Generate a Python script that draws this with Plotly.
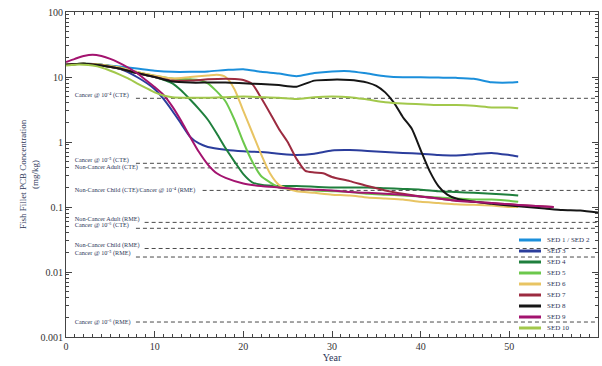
import plotly.graph_objects as go

# ---------------- data ----------------
names = ["SED 1 / SED 2", "SED 3", "SED 4", "SED 5", "SED 6",
         "SED 7", "SED 8", "SED 9", "SED 10"]
colors = ["#1b8fdb", "#2b3d9c", "#1f7f3d", "#6cc84c", "#e8c463",
          "#9c2b40", "#161616", "#a3136f", "#a2c84b"]

sed12_x = [0, 2, 4, 6, 8, 10, 12, 14, 16, 18, 20, 22, 24, 26, 28, 30, 32, 34, 36, 38, 40, 42, 44, 46, 48, 50, 51]
sed12_y = [15.5, 16, 15.5, 14.5, 13.5, 12.5, 12, 12, 12.2, 12.8, 13.2, 12, 11.3, 10.3, 11.5, 12.2, 12.3, 11.3,
           10.3, 9.9, 9.9, 9.8, 9.7, 9.4, 8.3, 8.2, 8.4]

sed3_x = [0, 2, 4, 6, 8, 10, 11, 12, 13, 14, 15, 16, 18, 20, 22, 24, 26, 28, 30, 32, 34, 36, 38, 40, 42, 44, 46, 48, 50, 51]
sed3_y = [15.5, 16, 15.5, 13.5, 10, 6.5, 4.6, 3.0, 1.9, 1.2, 0.95, 0.84, 0.76, 0.72, 0.7, 0.66, 0.63, 0.66,
          0.74, 0.75, 0.73, 0.7, 0.68, 0.66, 0.63, 0.62, 0.65, 0.68, 0.63, 0.6]

sed4_x = [0, 2, 4, 6, 8, 10, 12, 13, 14, 15, 16, 17, 18, 19, 20, 21, 22, 24, 26, 28, 30, 32, 34, 36, 38, 40, 42, 44, 46, 48, 50, 51]
sed4_y = [15.5, 16, 15, 13.5, 11.5, 10, 8, 6.2, 4.5, 3.2, 2.2, 1.35, 0.8, 0.5, 0.32, 0.24, 0.22, 0.21, 0.21,
          0.205, 0.2, 0.2, 0.2, 0.195, 0.19, 0.185, 0.175, 0.17, 0.165, 0.16, 0.155, 0.15]

sed5_x = [0, 2, 4, 6, 8, 10, 12, 14, 15, 16, 17, 18, 19, 20, 21, 22, 23, 24, 26, 28, 30, 32, 34, 36, 38, 40, 42, 44, 46, 48, 50, 51]
sed5_y = [15.5, 16, 15.5, 14, 12, 10.5, 9.5, 9.2, 9, 8, 6, 4.2, 2.2, 1.0, 0.5, 0.3, 0.24, 0.2, 0.19, 0.18,
          0.175, 0.17, 0.16, 0.155, 0.15, 0.145, 0.14, 0.135, 0.13, 0.13, 0.125, 0.12]

sed6_x = [0, 2, 4, 6, 8, 10, 12, 14, 16, 17, 18, 19, 20, 21, 22, 23, 24, 25, 26, 28, 30, 32, 34, 36, 38, 40, 42, 44, 46, 48, 50, 51]
sed6_y = [15.5, 16, 15.5, 14, 12, 10.5, 9.5, 10, 10.5, 10.8, 10, 6.5, 3.0, 1.4, 0.65, 0.33, 0.22, 0.19, 0.175,
          0.165, 0.155, 0.15, 0.14, 0.135, 0.13, 0.12, 0.115, 0.11, 0.108, 0.105, 0.1, 0.1]

sed7_x = [0, 2, 4, 6, 8, 10, 12, 14, 16, 18, 19, 20, 21, 22, 23, 24, 25, 26, 27, 28, 29, 30, 32, 34, 36, 38, 40, 42, 44, 46, 48, 50, 52, 55]
sed7_y = [15.5, 16, 15, 13.5, 11.5, 10, 8.8, 8.8, 9.2, 9.4, 9.3, 9, 7.8, 4.8, 2.8, 1.6, 1.0, 0.55, 0.36, 0.34,
          0.33, 0.29, 0.25, 0.21, 0.18, 0.16, 0.145, 0.135, 0.125, 0.12, 0.115, 0.11, 0.105, 0.1]

sed8_x = [0, 2, 4, 6, 8, 10, 12, 14, 16, 18, 20, 22, 24, 26, 28, 30, 32, 33, 34, 35, 36, 37, 38, 39, 40, 41, 42, 43, 44, 46, 48, 50, 52, 54, 56, 58, 60]
sed8_y = [15.5, 16, 15, 13.5, 11.5, 10, 8.5, 8.2, 8.2, 8.2, 8, 7.8, 7.5, 7.1, 8.8, 9.1, 9.0, 8.7, 8.2, 7.3,
          5.8, 4.0, 2.4, 1.6, 0.75, 0.36, 0.21, 0.155, 0.135, 0.12, 0.112, 0.105, 0.1, 0.095, 0.09, 0.088, 0.082]

sed9_x = [0, 1, 2, 3, 4, 5, 6, 7, 8, 9, 10, 11, 12, 13, 14, 15, 16, 17, 18, 20, 22, 24, 26, 28, 30, 32, 34, 36, 38, 40, 42, 44, 46, 48, 50, 52, 55]
sed9_y = [17, 19, 21, 22, 21, 19, 16.5, 14, 11.5, 9, 7, 5.3, 3.5, 2.1, 1.2, 0.7, 0.45, 0.33, 0.28, 0.23, 0.21,
          0.2, 0.19, 0.185, 0.18, 0.17, 0.165, 0.16, 0.155, 0.145, 0.135, 0.125, 0.12, 0.115, 0.11, 0.105, 0.1]

sed10_x = [0, 1, 2, 3, 4, 5, 6, 7, 8, 9, 10, 11, 12, 14, 16, 18, 20, 22, 24, 26, 28, 30, 32, 34, 36, 38, 40, 42, 44, 46, 48, 50, 51]
sed10_y = [15, 15.5, 15.5, 15, 14, 12.5, 11, 9.5, 8, 6.8, 5.8, 5.2, 4.9, 4.8, 4.8, 4.9, 5.0, 4.9, 4.8, 4.6,
           4.9, 5.0, 4.9, 4.5, 4.1, 3.9, 3.8, 3.7, 3.7, 3.6, 3.4, 3.4, 3.3]

series_x = [sed12_x, sed3_x, sed4_x, sed5_x, sed6_x, sed7_x, sed8_x, sed9_x, sed10_x]
series_y = [sed12_y, sed3_y, sed4_y, sed5_y, sed6_y, sed7_y, sed8_y, sed9_y, sed10_y]

threshold_labels = ["Cancer @ 10⁻⁴ (CTE)", "Cancer @ 10⁻⁵ (CTE)", "Non-Cancer Adult (CTE)",
                    "Non-Cancer Child (CTE)/Cancer @ 10⁻⁴ (RME)", "Non-Cancer Adult (RME)",
                    "Cancer @ 10⁻⁶ (CTE)", "Non-Cancer Child (RME)", "Cancer @ 10⁻⁵ (RME)",
                    "Cancer @ 10⁻⁶ (RME)"]
threshold_values = [4.7, 0.47, 0.40, 0.18, 0.058, 0.047, 0.023, 0.017, 0.0017]

y_tickvals = [0.001, 0.01, 0.1, 1, 10, 100]
y_ticktext = ["0.001", "0.01", "0.1", "1", "10", "100"]
x_tickvals = [0, 10, 20, 30, 40, 50, 60]

# ---------------- figure ----------------
SERIF = "Liberation Serif"
TXT = "#2b3557"
label_pos = ["top right", "top right", "middle right", "middle right", "top right",
             "top right", "top right", "top right", "middle right"]
fig = go.Figure()

# threshold dashed lines + labels
for lab, v, pos in zip(threshold_labels, threshold_values, label_pos):
    x0 = 1 + (len(lab) * 2.9 + 6) / 8.87
    fig.add_trace(go.Scatter(x=[x0, 60], y=[v, v], mode="lines",
                             line=dict(color="#4a4a4a", width=1, dash="4px,3px"),
                             showlegend=False, hoverinfo="skip"))
    fig.add_trace(go.Scatter(x=[1], y=[v], mode="text", text=[lab],
                             textposition=pos,
                             textfont=dict(family=SERIF, size=6.2, color=TXT),
                             showlegend=False, hoverinfo="skip"))

for nm, c, xs, ys in zip(names, colors, series_x, series_y):
    fig.add_trace(go.Scatter(x=xs, y=ys, mode="lines", name=nm,
                             line=dict(color=c, width=2, shape="spline", smoothing=0.6),
                             showlegend=False))

# custom compact legend (paper coordinates)
L, T, B = 66, 12, 337
W, H = 532, 325
def px(xp):
    return (xp - L) / W
def py(yp):
    return (B - yp) / H

for i, (nm, c) in enumerate(zip(names, colors)):
    yy = 240 + i * 11
    fig.add_shape(type="line", xref="paper", yref="paper",
                  x0=px(519), x1=px(541), y0=py(yy), y1=py(yy),
                  line=dict(color=c, width=3))
    fig.add_annotation(xref="paper", yref="paper", x=px(545), y=py(yy),
                       text=nm, showarrow=False, xanchor="left", yanchor="middle",
                       font=dict(family=SERIF, size=7, color=TXT))

axis_common = dict(showline=True, linecolor="#444", linewidth=1, mirror="ticks",
                   ticks="inside", tickcolor="#444", showgrid=False, zeroline=False,
                   automargin=False,
                   tickfont=dict(family=SERIF, size=10, color="#333"))

fig.update_xaxes(range=[0, 60], tickvals=x_tickvals, ticklen=6,
                 minor=dict(ticks="inside", dtick=1, ticklen=3, tickcolor="#444"),
                 title=dict(text="Year", font=dict(family=SERIF, size=10, color=TXT), standoff=2),
                 **axis_common)
fig.update_yaxes(type="log", range=[-3, 2], tickvals=y_tickvals, ticktext=y_ticktext, ticklen=6,
                 minor=dict(ticks="inside", dtick="D1", ticklen=3, tickcolor="#444"),
                 title=dict(text="Fish Fillet PCB Concentration<br>(mg/kg)",
                            font=dict(family=SERIF, size=9, color=TXT), standoff=0),
                 **axis_common)

fig.update_layout(width=602, height=366, margin=dict(l=66, r=4, t=12, b=29),
                  paper_bgcolor="white", plot_bgcolor="white", showlegend=False)

fig.write_html("out.html", config={"displayModeBar": False},
               post_script="document.body.style.margin='0';document.body.style.overflow='hidden';")
